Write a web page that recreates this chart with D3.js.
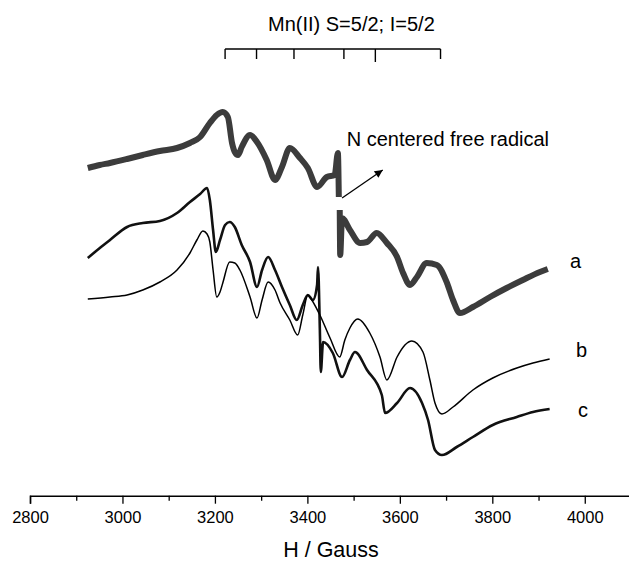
<!DOCTYPE html>
<html>
<head>
<meta charset="utf-8">
<script src="https://cdn.jsdelivr.net/npm/d3@7"></script>
<style>
  html, body { margin: 0; padding: 0; background: #fff; }
  svg { display: block; font-family: "Liberation Sans", Arial, Helvetica, sans-serif; }
</style>
</head>
<body>
<svg id="chart" width="629" height="561"></svg>
<script>
// ---- Data (field in Gauss, signal in arbitrary units) ----
const aField = [2925,2951,2973,3010,3044,3081,3118,3146,3168,3189,3204,3217,3228,3237,3243,3250,3258,3276,3291,3312,3330,3345,3362,3384,3401,3421,3442,3459,3466,3468,null,3470,3471,3475,3492,3514,3529,3550,3572,3594,3607,3622,3637,3658,3680,3702,3715,3730,3758,3795,3831,3866,3903,3920];
const aSignal = [33.2,33.5,33.7,34.1,34.5,34.9,35.2,35.7,36.3,37.7,38.5,38.8,38.3,35.7,34.8,34.5,35.3,36.5,35.8,34.0,32.0,33.3,35.2,34.2,33.2,31.3,32.3,32.5,34.7,30.3,null,29.0,24.5,28.2,27.0,25.7,25.8,26.7,25.7,24.3,22.7,21.5,22.3,23.7,23.5,21.7,20.0,18.7,19.3,20.3,21.2,22.0,22.8,23.1];

const bField = [2925,2973,3010,3044,3081,3118,3146,3161,3174,3183,3189,3196,3204,3211,3217,3232,3243,3254,3276,3291,3302,3315,3330,3341,3362,3379,3390,3401,3405,3427,3449,3470,3481,3492,3509,3535,3557,3572,3594,3611,3626,3650,3665,3676,3691,3715,3758,3801,3853,3888,3924];
const bSignal = [20.1,20.3,20.5,21.0,21.8,23.0,24.7,26.0,26.9,26.6,25.8,23.0,20.3,20.8,21.7,23.8,23.7,23.0,20.3,18.2,20.0,21.8,21.0,19.7,18.0,16.5,18.5,20.5,20.3,18.5,16.2,14.3,16.0,17.2,18.1,16.7,14.3,12.0,14.3,15.5,15.9,14.8,12.0,9.7,8.6,9.3,11.0,12.2,13.2,13.7,14.1];

const cField = [2925,2951,2973,3010,3044,3081,3118,3146,3168,3183,3189,3196,3202,3211,3222,3232,3243,3258,3276,3291,3302,3315,3330,3345,3362,3377,3390,3401,3412,3421,3423,3427,3429,3434,3455,3475,3492,3503,3529,3561,3568,3594,3622,3648,3661,3676,3691,3723,3758,3801,3853,3888,3924];
const cSignal = [24.2,25.2,26.0,27.3,27.7,27.9,28.7,29.8,30.6,31.2,30.0,27.0,24.8,26.0,27.5,27.8,27.3,25.5,23.8,21.3,23.0,24.3,23.0,21.3,19.5,18.0,19.5,20.5,20.0,21.5,23.3,17.0,12.8,15.8,14.7,12.3,14.0,14.8,13.0,10.5,8.7,9.7,11.2,9.7,8.0,5.0,4.5,5.3,6.3,7.5,8.3,8.8,9.1];

const traceNames = ["a", "b", "c"];
const mnLines = [3222, 3290, 3371, 3479, 3547, 3688];
const xTicks = [2800,2900,3000,3100,3200,3300,3400,3500,3600,3700,3800,3900,4000,4100];
const xTickLabels = ["2800","","3000","","3200","","3400","","3600","","3800","","4000",""];

// ---- Scales ----
const svg = d3.select("#chart");
const x = d3.scaleLinear().domain([2800, 4100]).range([30, 631]);
const y = d3.scaleLinear().domain([0, 50]).range([500, 0]);
const axisY = 495.7;

// ---- Axis ----
const axis = d3.axisBottom(x)
  .tickValues(xTicks)
  .tickFormat((d, i) => xTickLabels[i])
  .tickSizeOuter(0)
  .tickSize(8);
const gAxis = svg.append("g").attr("transform", `translate(0,${axisY})`).call(axis);
gAxis.select(".domain").attr("stroke", "#000").attr("stroke-width", 1.5);
gAxis.selectAll(".tick line")
  .attr("stroke", "#000").attr("stroke-width", 1.3)
  .attr("y2", (d, i) => xTickLabels[i] ? 8 : 5);
gAxis.selectAll(".tick text")
  .attr("y", 27.6).attr("dy", 0)
  .attr("fill", "#000")
  .style("font-size", "16.5px")
  .style("font-family", "'Liberation Sans', Arial, sans-serif");

svg.append("text")
  .attr("x", 331).attr("y", 556.7)
  .attr("text-anchor", "middle")
  .style("font-size", "21.5px")
  .text("H / Gauss");

// ---- Traces ----
const line = d3.line()
  .defined((d) => d[0] !== null && d[1] !== null)
  .curve(d3.curveMonotoneX)
  .x((d) => x(d[0])).y((d) => y(d[1]));
const zip = (xs, ys) => xs.map((v, i) => [v, ys[i]]);

svg.append("path").datum(zip(aField, aSignal))
  .attr("d", line).attr("fill", "none")
  .attr("stroke", "#3c3c3c").attr("stroke-width", 6).attr("stroke-linejoin", "round");
svg.append("path").datum(zip(cField, cSignal))
  .attr("d", line).attr("fill", "none")
  .attr("stroke", "#111").attr("stroke-width", 2.6).attr("stroke-linejoin", "round");
svg.append("path").datum(zip(bField, bSignal))
  .attr("d", line).attr("fill", "none")
  .attr("stroke", "#000").attr("stroke-width", 1.5).attr("stroke-linejoin", "round");

// trace labels
const labelPos = [[570, 268], [576, 357], [578, 417]];
svg.selectAll("text.trace-label").data(traceNames).enter().append("text")
  .attr("class", "trace-label")
  .attr("x", (d, i) => labelPos[i][0]).attr("y", (d, i) => labelPos[i][1])
  .style("font-size", "20px")
  .text((d) => d);

// ---- Mn(II) hyperfine marker ----
const mnY = 49;
svg.append("line")
  .attr("x1", x(mnLines[0])).attr("x2", x(mnLines[mnLines.length - 1]))
  .attr("y1", mnY).attr("y2", mnY)
  .attr("stroke", "#000").attr("stroke-width", 1.4);
svg.selectAll("line.mn").data(mnLines).enter().append("line")
  .attr("class", "mn")
  .attr("x1", (d) => x(d)).attr("x2", (d) => x(d))
  .attr("y1", mnY).attr("y2", (d, i) => mnY + (i === 4 ? 13 : 10))
  .attr("stroke", "#000").attr("stroke-width", 1.4);
svg.append("text")
  .attr("x", 268).attr("y", 30.7)
  .style("font-size", "20px")
  .text("Mn(II) S=5/2; I=5/2");

// ---- Free radical annotation ----
svg.append("defs").append("marker")
  .attr("id", "arrow").attr("viewBox", "0 0 10 10")
  .attr("refX", 10).attr("refY", 5)
  .attr("markerWidth", 12).attr("markerHeight", 8)
  .attr("markerUnits", "userSpaceOnUse")
  .attr("orient", "auto")
  .append("path").attr("d", "M0,0 L10,5 L0,10 Z").attr("fill", "#000");
svg.append("line")
  .attr("x1", x(3475)).attr("y1", y(30.2))
  .attr("x2", x(3563)).attr("y2", y(33.0))
  .attr("stroke", "#000").attr("stroke-width", 1.3)
  .attr("marker-end", "url(#arrow)");
svg.append("text")
  .attr("x", 346.7).attr("y", 146)
  .style("font-size", "20px")
  .text("N centered free radical");
</script>
</body>
</html>
